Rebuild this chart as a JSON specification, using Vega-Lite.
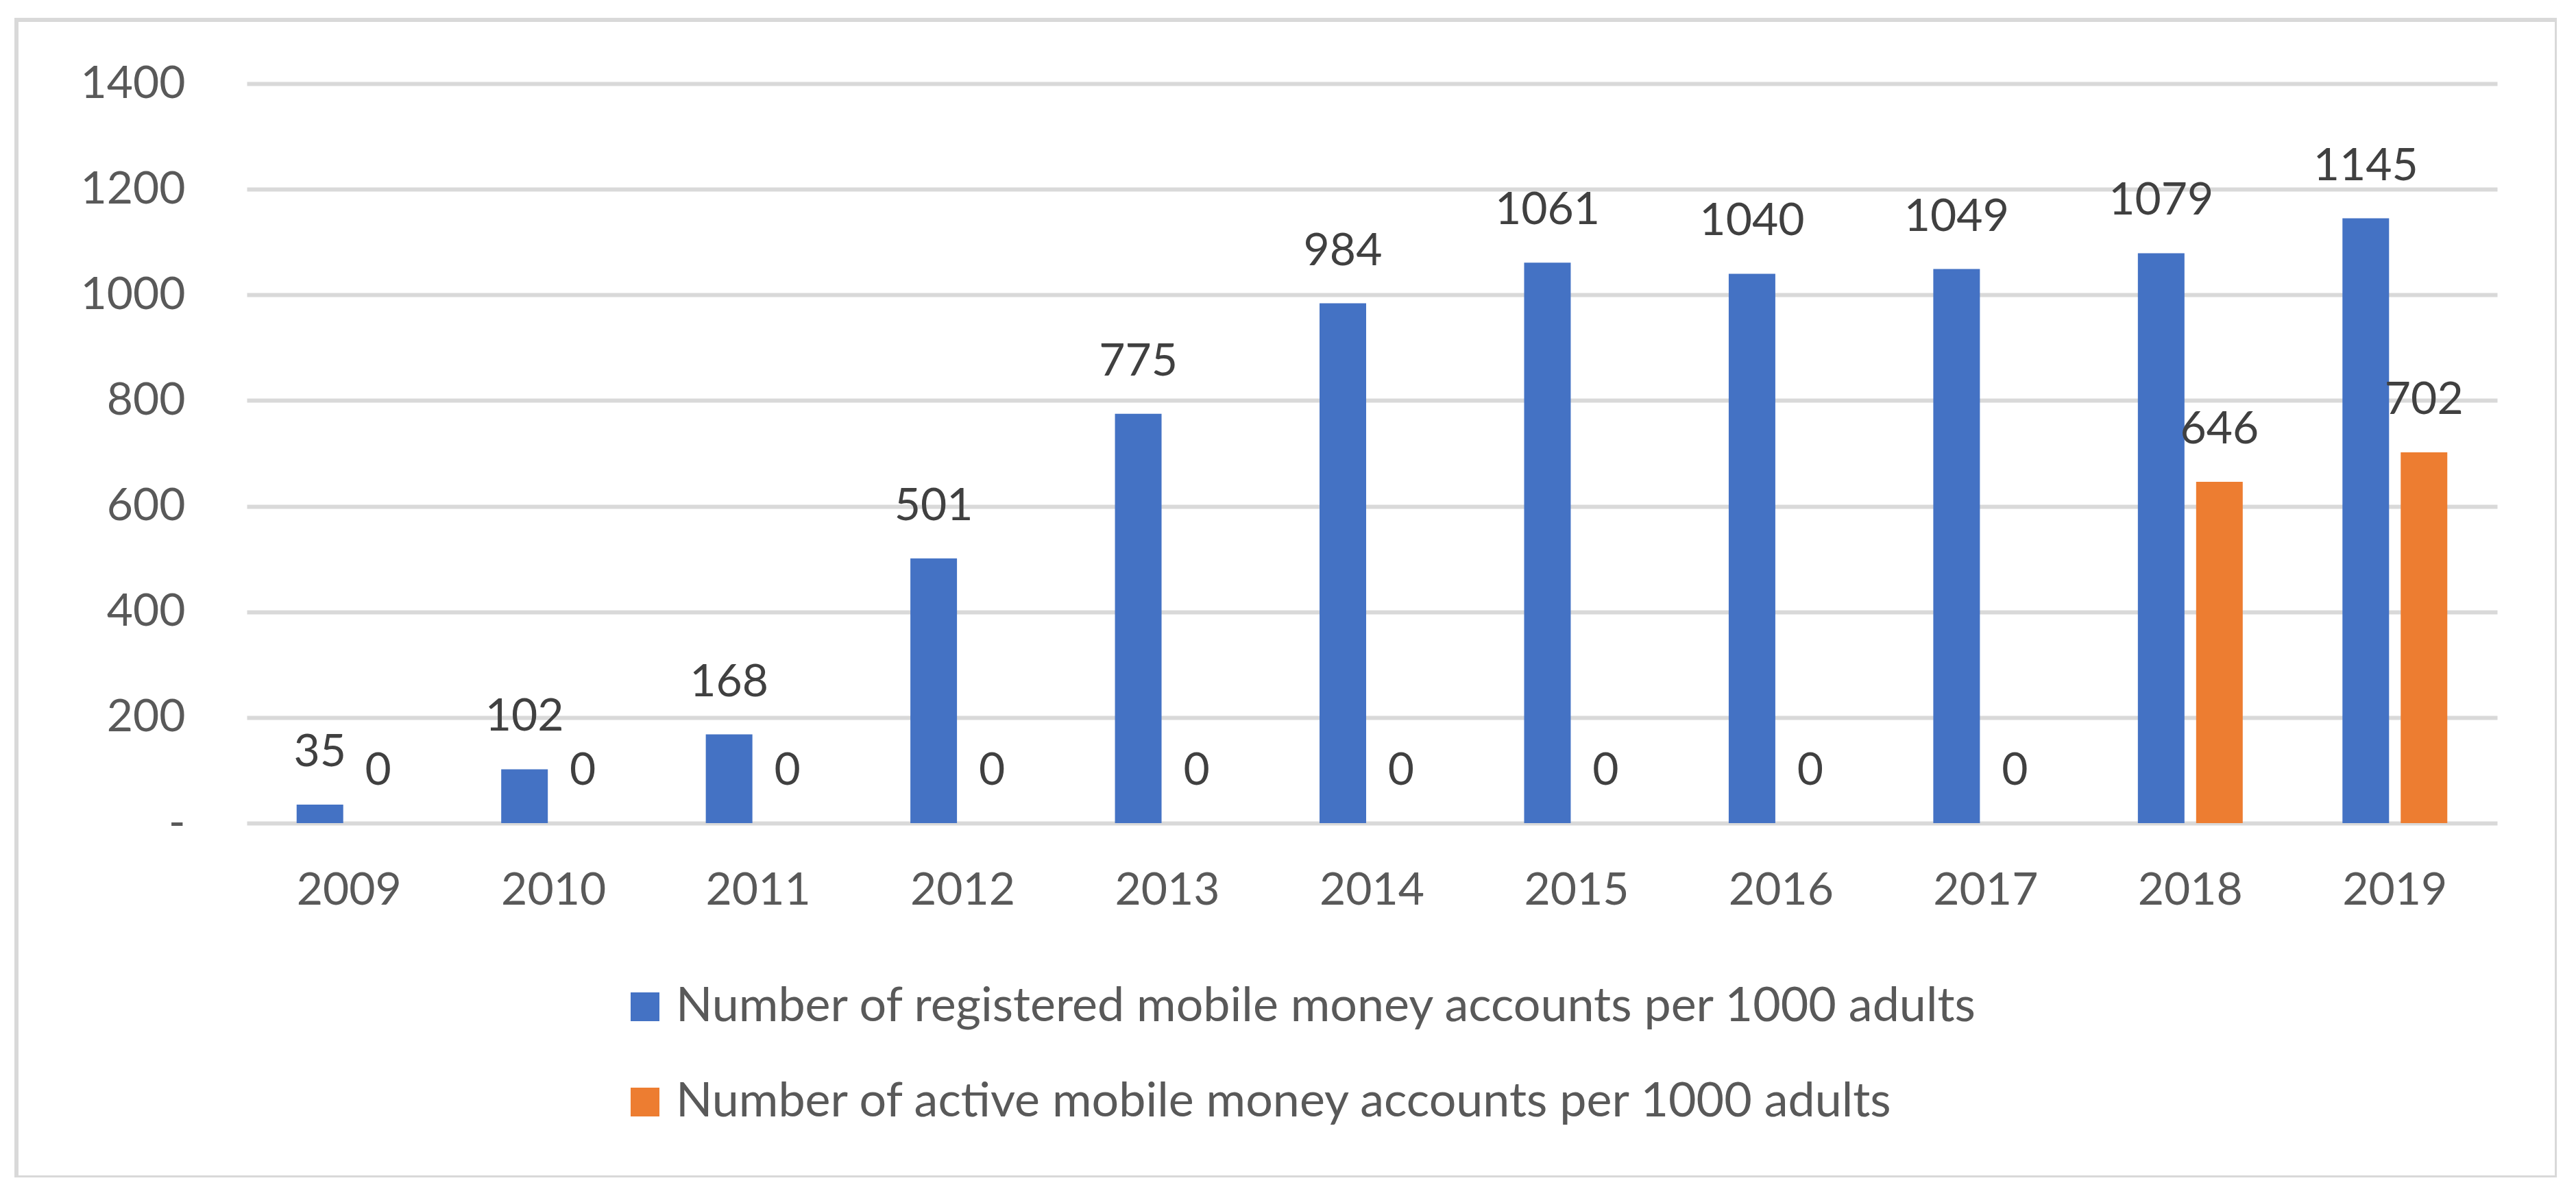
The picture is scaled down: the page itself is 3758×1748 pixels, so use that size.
{
  "$schema": "https://vega.github.io/schema/vega-lite/v6.json",
  "width": 3706,
  "height": 1689,
  "autosize": {"type": "none"},
  "padding": {"left": 24, "top": 29, "right": 0, "bottom": 0},
  "background": "white",
  "config": {
    "view": {"stroke": "#D9D9D9", "strokeWidth": 6, "fill": "white"},
    "font": "Lato"
  },
  "data": {
    "values": [
      {"year": "2009", "series": "Number of registered mobile money accounts per 1000 adults", "value": 35},
      {"year": "2010", "series": "Number of registered mobile money accounts per 1000 adults", "value": 102},
      {"year": "2011", "series": "Number of registered mobile money accounts per 1000 adults", "value": 168},
      {"year": "2012", "series": "Number of registered mobile money accounts per 1000 adults", "value": 501},
      {"year": "2013", "series": "Number of registered mobile money accounts per 1000 adults", "value": 775},
      {"year": "2014", "series": "Number of registered mobile money accounts per 1000 adults", "value": 984},
      {"year": "2015", "series": "Number of registered mobile money accounts per 1000 adults", "value": 1061},
      {"year": "2016", "series": "Number of registered mobile money accounts per 1000 adults", "value": 1040},
      {"year": "2017", "series": "Number of registered mobile money accounts per 1000 adults", "value": 1049},
      {"year": "2018", "series": "Number of registered mobile money accounts per 1000 adults", "value": 1079},
      {"year": "2019", "series": "Number of registered mobile money accounts per 1000 adults", "value": 1145},
      {"year": "2009", "series": "Number of active mobile money accounts per 1000 adults", "value": 0},
      {"year": "2010", "series": "Number of active mobile money accounts per 1000 adults", "value": 0},
      {"year": "2011", "series": "Number of active mobile money accounts per 1000 adults", "value": 0},
      {"year": "2012", "series": "Number of active mobile money accounts per 1000 adults", "value": 0},
      {"year": "2013", "series": "Number of active mobile money accounts per 1000 adults", "value": 0},
      {"year": "2014", "series": "Number of active mobile money accounts per 1000 adults", "value": 0},
      {"year": "2015", "series": "Number of active mobile money accounts per 1000 adults", "value": 0},
      {"year": "2016", "series": "Number of active mobile money accounts per 1000 adults", "value": 0},
      {"year": "2017", "series": "Number of active mobile money accounts per 1000 adults", "value": 0},
      {"year": "2018", "series": "Number of active mobile money accounts per 1000 adults", "value": 646},
      {"year": "2019", "series": "Number of active mobile money accounts per 1000 adults", "value": 702}
    ]
  },
  "encoding": {
    "x": {
      "field": "year",
      "type": "nominal",
      "scale": {"range": [336, 3619], "paddingInner": 0, "paddingOuter": 0},
      "axis": {
        "title": null,
        "domain": false,
        "ticks": false,
        "grid": false,
        "labelAngle": 0,
        "labelFont": "Lato",
        "labelFontSize": 66,
        "labelColor": "#595959",
        "offset": -517,
        "labelPadding": 66,
        "labelBaseline": "top"
      }
    },
    "xOffset": {
      "field": "series",
      "type": "nominal",
      "sort": ["Number of registered mobile money accounts per 1000 adults", "Number of active mobile money accounts per 1000 adults"],
      "scale": {"paddingInner": 0.2, "paddingOuter": 0.856}
    },
    "y": {
      "field": "value",
      "type": "quantitative",
      "scale": {"domain": [0, 1400], "range": [1172, 93], "nice": false, "zero": true},
      "axis": {
        "title": null,
        "domain": false,
        "ticks": false,
        "grid": true,
        "gridColor": "#D9D9D9",
        "gridWidth": 6,
        "values": [0, 200, 400, 600, 800, 1000, 1200, 1400],
        "format": "d",
        "labelExpr": "datum.value === 0 ? '-' : datum.label",
        "labelFont": "Lato",
        "labelFontSize": 66,
        "labelColor": "#595959",
        "labelPadding": 0,
        "offset": -246
      }
    }
  },
  "layer": [
    {
      "mark": {"type": "bar"},
      "encoding": {
        "color": {
          "field": "series",
          "type": "nominal",
          "scale": {
            "domain": ["Number of registered mobile money accounts per 1000 adults", "Number of active mobile money accounts per 1000 adults"],
            "range": ["#4472C4", "#ED7D31"]
          },
          "legend": {
            "orient": "none",
            "legendX": 882,
            "legendY": 1405,
            "padding": 0,
            "direction": "vertical",
            "title": null,
            "symbolType": "square",
            "symbolSize": 1764,
            "symbolStrokeWidth": 0,
            "symbolOpacity": 1,
            "labelFont": "Lato",
            "labelFontSize": 70,
            "labelColor": "#595959",
            "labelOffset": 10,
            "labelLimit": 0,
            "rowPadding": 69
          }
        }
      }
    },
    {
      "mark": {"type": "text", "dy": -56, "baseline": "alphabetic", "font": "Lato", "fontSize": 66, "color": "#404040"},
      "encoding": {
        "text": {"field": "value", "type": "quantitative", "format": "d"}
      }
    }
  ]
}
